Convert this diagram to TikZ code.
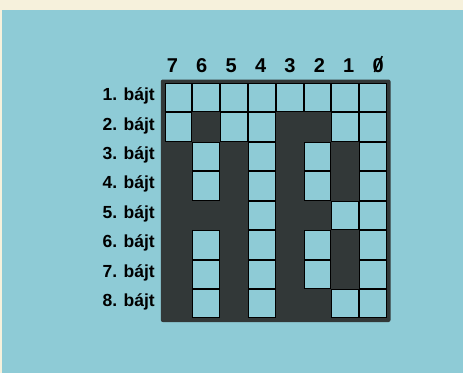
\documentclass[tikz,border=0pt]{standalone}
\usepackage{fontspec}
\setmainfont{Liberation Sans}
\usetikzlibrary{positioning}
\definecolor{paper}{HTML}{F6F1DC}
\definecolor{panel}{HTML}{8ECBD6}
\definecolor{ink}{HTML}{323838}
\tikzset{bitcell/.style={draw=black,line width=1pt,fill=panel,inner sep=0pt,
    minimum width=26.8pt,minimum height=28.45pt},
  collabel/.style={font=\fontsize{20}{20}\bfseries\selectfont,anchor=base,inner sep=0pt},
  rowlabel/.style={font=\fontsize{17.5}{18}\bfseries\selectfont,anchor=base east,inner sep=0pt}}

\begin{document}
\begin{tikzpicture}[x=1pt,y=-1pt]
\useasboundingbox (0,0) rectangle (463,373);
\fill[paper] (0,0) rectangle (463,373);
\fill[panel] (2,10) rectangle (463,373);
% dark grid
\fill[ink,rounded corners=2pt] (160.8,79.5) rectangle (390.5,322);
% bit numbers
\foreach \i/\b in {1/7,2/6,3/5,4/4,5/3,6/2,7/1,8/0}
 \node[collabel] (c\i) at (275.3+29.4*\i-132.3,72) {\b};
\draw[line width=1.5pt] ([shift={(-3.8,0)}]c8.base) -- ([shift={(4,-15.8)}]c8.base);
% bytes, light cells
\foreach \r/\lit in {1/{1,2,3,4,5,6,7,8},2/{1,3,4,7,8},3/{2,4,6,8},4/{2,4,6,8},
  5/{4,7,8},6/{2,4,6,8},7/{2,4,6,8},8/{2,4,7,8}} {
 \node[rowlabel] (r\r) at (155,82.8+29.45*\r-14.7+3) {\r. bájt};
 \foreach \k in \lit
  \node[bitcell] (b\r\k) at (164.5+27.8*\k-13.9,82.8+29.45*\r-14.7) {};
}
\end{tikzpicture}
\end{document}
